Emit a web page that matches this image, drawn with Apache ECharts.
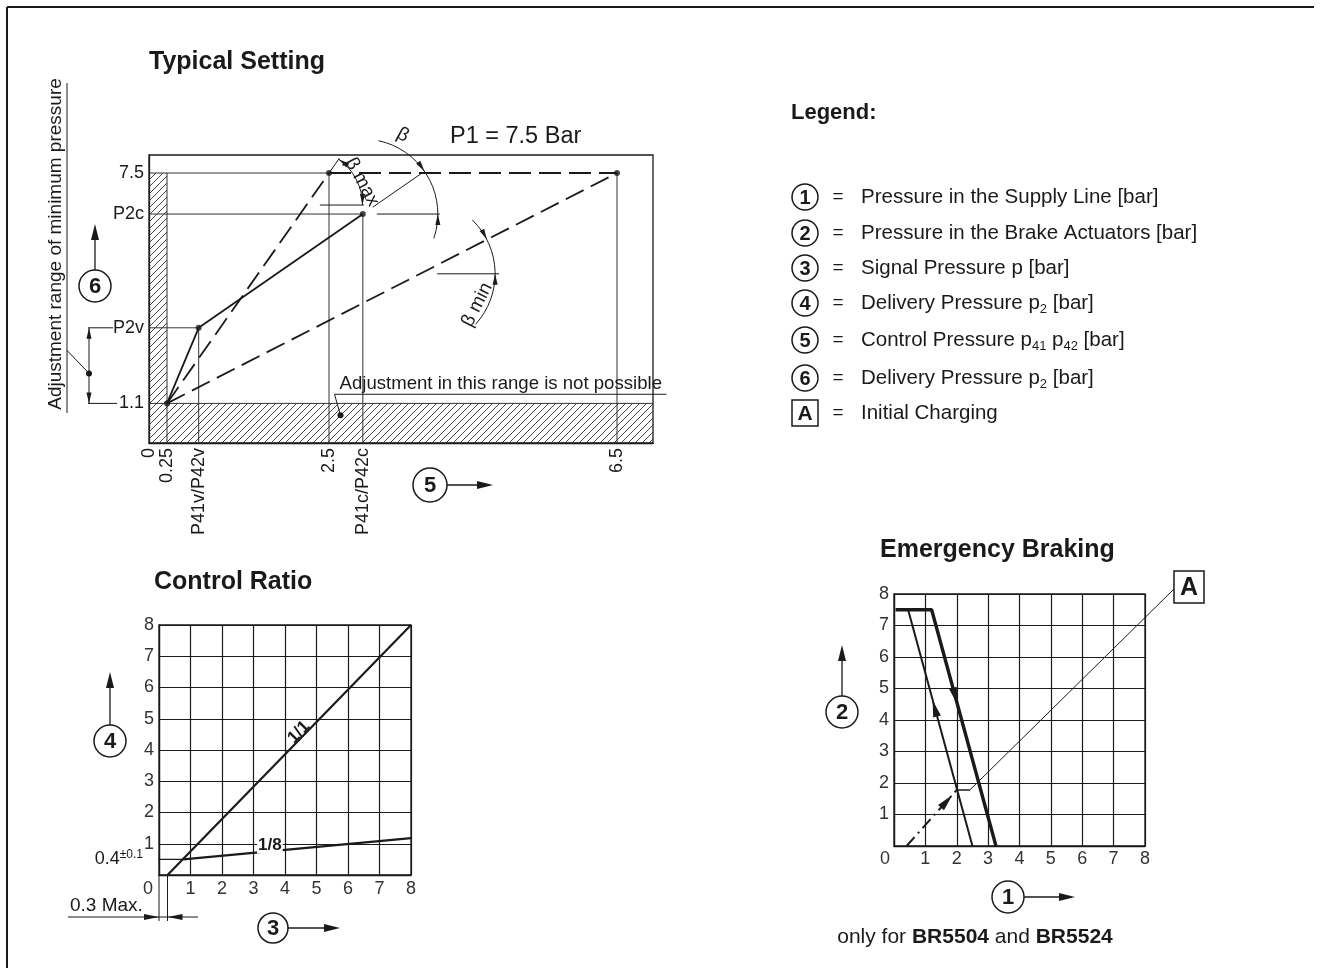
<!DOCTYPE html>
<html>
<head>
<meta charset="utf-8">
<title>Typical Setting - Control Ratio - Emergency Braking</title>
<script src="https://cdn.jsdelivr.net/npm/echarts@6/dist/echarts.min.js"></script>
<style>
  html, body { margin: 0; padding: 0; background: #fff; }
  #chart { width: 1321px; height: 975px; }
</style>
</head>
<body>
<div id="chart"></div>
<script>
  // ---- Typical Setting (x: control pressure, y: delivery pressure) ----
  const tsXTicks = [0, 0.25, 0.69, 2.5, 2.97, 6.5];
  const tsXTickText = ['0', '0.25', 'P41v/P42v', '2.5', 'P41c/P42c', '6.5'];
  const tsYTicks = [1.1, 3.2, 6.36, 7.5];
  const tsYTickText = ['1.1', 'P2v', 'P2c', '7.5'];
  const tsSolid = [[0.25, 1.1], [0.69, 3.2], [2.97, 6.36]];
  const tsSteep = [[0.25, 1.1], [2.5, 7.5]];
  const tsFlat = [[0.25, 1.1], [6.5, 7.5]];
  const tsTop = [[2.5, 7.5], [6.5, 7.5]];
  const tsDots = [[0.25, 1.1], [0.69, 3.2], [2.5, 7.5], [2.97, 6.36], [6.5, 7.5]];
  const tsHatch = [[0, 0, 7, 1.1], [0, 1.1, 0.25, 7.5]];
  const tsRefs = [
    [0.25, 0, 0.25, 7.5], [0, 7.5, 2.5, 7.5], [2.5, 0, 2.5, 7.5],
    [0.69, 0, 0.69, 3.2], [0, 3.2, 0.69, 3.2],
    [2.97, 0, 2.97, 6.36], [0, 6.36, 2.97, 6.36],
    [6.5, 0, 6.5, 7.5], [0, 1.1, 7, 1.1]
  ];
  const tsNoteDot = [2.66, 0.77];

  // ---- Control Ratio ----
  const crTicks = [0, 1, 2, 3, 4, 5, 6, 7, 8];
  const crRatio11 = [[0.27, 0], [8, 8]];
  const crRatio18 = [[0.77, 0.5], [8, 1.18]];
  const crOffset = [[-0.35, 0.5], [0.77, 0.5]];
  const crLabel11 = [4.44, 4.57];
  const crLabel18 = [3.52, 0.96];

  // ---- Emergency Braking ----
  const ebThick = [[0.05, 7.5], [1.2, 7.5], [3.25, 0]];
  const ebThin = [[0.45, 7.5], [2.5, 0]];
  const ebCharge = [[0.4, 0], [2.0, 1.78]];
  const ebStep = [[2.0, 1.78], [2.42, 1.78]];
  const ebArrows = [[2.02, 4.5], [1.23, 4.63], [1.86, 1.62]];

  // ---- Legend ----
  const legendKeys = ['1', '2', '3', '4', '5', '6', 'A'];
  const legendText = [
    '{n|Pressure in the Supply Line [bar]}',
    '{n|Pressure in the Brake Actuators [bar]}',
    '{n|Signal Pressure p [bar]}',
    '{n|Delivery Pressure p}{s|2}{n| [bar]}',
    '{n|Control Pressure p}{s|41}{n| p}{s|42}{n| [bar]}',
    '{n|Delivery Pressure p}{s|2}{n| [bar]}',
    '{n|Initial Charging}'
  ];

  const FONT = '"Liberation Sans", Arial, sans-serif';
  const INK = '#1a1a1a';

  function hatchPattern() {
    const c = document.createElement('canvas');
    c.width = 7; c.height = 7;
    const g = c.getContext('2d');
    g.strokeStyle = '#333';
    g.lineWidth = 0.9;
    g.beginPath();
    g.moveTo(0, 7); g.lineTo(7, 0);
    g.moveTo(-1, 1); g.lineTo(1, -1);
    g.moveTo(6, 8); g.lineTo(8, 6);
    g.stroke();
    return { image: c, repeat: 'repeat' };
  }
  const hatch = hatchPattern();

  // small drawing helpers (pixel space)
  function seg(a, b, w, dash) {
    return { type: 'line', silent: true, shape: { x1: a[0], y1: a[1], x2: b[0], y2: b[1] },
      style: { stroke: INK, lineWidth: w || 1, lineDash: dash || null } };
  }
  function head(tip, ang, len, wid) {
    len = len || 13; wid = wid || 6;
    const c = Math.cos(ang), s = Math.sin(ang);
    const bx = tip[0] - c * len, by = tip[1] - s * len;
    return { type: 'polygon', silent: true,
      shape: { points: [[tip[0], tip[1]], [bx - s * wid / 2, by + c * wid / 2], [bx + s * wid / 2, by - c * wid / 2]] },
      style: { fill: INK } };
  }
  function dot(p, r) {
    return { type: 'circle', silent: true, shape: { cx: p[0], cy: p[1], r: r || 3 }, style: { fill: INK } };
  }
  function arcEl(c, r, a0, a1) {
    return { type: 'arc', silent: true, shape: { cx: c[0], cy: c[1], r: r, startAngle: a0, endAngle: a1, clockwise: true },
      style: { stroke: INK, fill: null, lineWidth: 1 } };
  }
  function label(p, text, size, opt) {
    opt = opt || {};
    const align = opt.align || 'center', va = opt.va || 'middle';
    return { type: 'text', silent: true, x: p[0], y: p[1], rotation: opt.rot || 0, z2: 10,
      style: { text: text, font: (opt.bold ? 'bold ' : '') + size + 'px ' + FONT, fill: INK,
        align: align, verticalAlign: va, textAlign: align, textVerticalAlign: va,
        rich: opt.rich, backgroundColor: opt.bg, padding: opt.pad } };
  }
  function circled(cx, cy, r, txt, fs) {
    return [
      { type: 'circle', silent: true, shape: { cx: cx, cy: cy, r: r }, style: { fill: '#fff', stroke: INK, lineWidth: 1.5 } },
      label([cx, cy + 1], txt, fs, { bold: true })
    ];
  }

  function lineSeries(data, gi, w, dash, z) {
    return { type: 'line', xAxisIndex: gi, yAxisIndex: gi, data: data, symbol: 'none', silent: true,
      lineStyle: { color: INK, width: w, type: dash || 'solid' }, z: z || 3 };
  }
  function segSeries(data, gi, w, color) {
    return { type: 'custom', xAxisIndex: gi, yAxisIndex: gi, data: data, silent: true, z: 2,
      renderItem: function (p, api) {
        const a = api.coord([api.value(0), api.value(1)]);
        const b = api.coord([api.value(2), api.value(3)]);
        return { type: 'line', shape: { x1: a[0], y1: a[1], x2: b[0], y2: b[1] }, style: { stroke: color, lineWidth: w } };
      } };
  }

  const chartDom = document.getElementById('chart');
  const myChart = echarts.init(chartDom);

  const gridAxis = (gi, min, max) => ({
    gridIndex: gi, type: 'value', min: min, max: max,
    axisLine: { show: true, onZero: false, lineStyle: { color: INK, width: 1.3 } },
    axisTick: { show: false }
  });

  const option = {
    animation: false,
    backgroundColor: '#fff',
    grid: [
      { left: 149, top: 155, width: 504, height: 288, show: true, borderColor: INK, borderWidth: 1.3, backgroundColor: 'transparent' },
      { left: 159, top: 625, width: 252, height: 250, show: true, borderColor: INK, borderWidth: 1.3, backgroundColor: 'transparent' },
      { left: 894, top: 594, width: 251, height: 252, show: true, borderColor: INK, borderWidth: 1.3, backgroundColor: 'transparent' }
    ],
    xAxis: [
      Object.assign(gridAxis(0, 0, 7), {
        splitLine: { show: false },
        axisLabel: { customValues: tsXTicks, rotate: 90, margin: 5, fontSize: 18, fontFamily: FONT, color: INK,
          formatter: v => tsXTickText[tsXTicks.indexOf(v)] }
      }),
      Object.assign(gridAxis(1, 0, 8), {
        interval: 1,
        splitLine: { show: true, lineStyle: { color: INK, width: 1.2 } },
        axisLabel: { margin: 5, fontSize: 18, fontFamily: FONT, color: '#333',
          formatter: v => v === 0 ? '{z|0}' : String(v), rich: { z: { padding: [0, 22, 0, 0] } } }
      }),
      Object.assign(gridAxis(2, 0, 8), {
        interval: 1,
        splitLine: { show: true, lineStyle: { color: INK, width: 1.2 } },
        axisLabel: { margin: 4, fontSize: 18, fontFamily: FONT, color: '#333',
          formatter: v => v === 0 ? '{z|0}' : String(v), rich: { z: { padding: [0, 18, 0, 0] } } }
      })
    ],
    yAxis: [
      Object.assign(gridAxis(0, 0, 8), {
        splitLine: { show: false },
        axisLabel: { customValues: tsYTicks, margin: 5, fontSize: 18, fontFamily: FONT, color: INK,
          formatter: v => tsYTickText[tsYTicks.indexOf(v)] }
      }),
      Object.assign(gridAxis(1, 0, 8), {
        interval: 1,
        splitLine: { show: true, lineStyle: { color: INK, width: 1.2 } },
        axisLabel: { margin: 5, fontSize: 18, fontFamily: FONT, color: '#333', formatter: v => v === 0 ? '' : String(v) }
      }),
      Object.assign(gridAxis(2, 0, 8), {
        interval: 1,
        splitLine: { show: true, lineStyle: { color: INK, width: 1.2 } },
        axisLabel: { margin: 5, fontSize: 18, fontFamily: FONT, color: '#333', formatter: v => v === 0 ? '' : String(v) }
      })
    ],
    series: [
      // Typical Setting
      { type: 'custom', xAxisIndex: 0, yAxisIndex: 0, data: tsHatch, silent: true, z: 1,
        renderItem: function (p, api) {
          const a = api.coord([api.value(0), api.value(1)]);
          const b = api.coord([api.value(2), api.value(3)]);
          return { type: 'rect', shape: { x: a[0], y: b[1], width: b[0] - a[0], height: a[1] - b[1] }, style: { fill: hatch } };
        } },
      segSeries(tsRefs, 0, 1, '#333'),
      lineSeries(tsSolid, 0, 1.8),
      lineSeries(tsSteep, 0, 1.8, [20, 8]),
      lineSeries(tsFlat, 0, 1.8, [20, 8]),
      lineSeries(tsTop, 0, 1.8, [22, 8]),
      { type: 'scatter', xAxisIndex: 0, yAxisIndex: 0, data: tsDots, symbolSize: 6, itemStyle: { color: INK }, silent: true, z: 5 },
      { type: 'custom', xAxisIndex: 0, yAxisIndex: 0, data: [[0, 0]], silent: true, z: 6, clip: false,
        renderItem: function (p, api) {
          const p0 = api.coord(tsSolid[0]), pv = api.coord(tsSolid[1]), pc = api.coord(tsSolid[2]);
          const pm = api.coord(tsSteep[1]), pf = api.coord(tsFlat[1]);
          const aSteep = Math.atan2(pm[1] - p0[1], pm[0] - p0[0]);
          const aSolid = Math.atan2(pc[1] - pv[1], pc[0] - pv[0]);
          const aFlat = Math.atan2(pf[1] - p0[1], pf[0] - p0[0]);
          const els = [];
          // beta max
          const yb = pc[1] - 9;
          const cm = [p0[0] + (yb - p0[1]) / Math.tan(aSteep), yb];
          const rm = 56;
          els.push(seg(pm, [pm[0] + Math.cos(aSteep) * 18, pm[1] + Math.sin(aSteep) * 18]));
          els.push(seg([pc[0] - 43, yb], [pc[0] + 1, yb]));
          els.push(arcEl(cm, rm, aSteep, 0));
          els.push(head([cm[0] + rm * Math.cos(aSteep), cm[1] + rm * Math.sin(aSteep)], aSteep - Math.PI / 2, 11, 5));
          els.push(head([cm[0] + rm, cm[1]], Math.PI / 2, 11, 5));
          els.push(label([pm[0] + 33, pm[1] + 9], 'β max', 19, { rot: -1.08 }));
          // beta
          const rb = 75;
          els.push(seg([pc[0] + Math.cos(aSolid) * 12, pc[1] + Math.sin(aSolid) * 12], [pc[0] + Math.cos(aSolid) * 73, pc[1] + Math.sin(aSolid) * 73]));
          els.push(seg([pc[0] + 14, pc[1]], [pc[0] + 77, pc[1]]));
          els.push(arcEl(pc, rb, -1.36, 0.33));
          els.push(head([pc[0] + rb * Math.cos(aSolid), pc[1] + rb * Math.sin(aSolid)], aSolid + Math.PI / 2, 11, 5));
          els.push(head([pc[0] + rb, pc[1]], -Math.PI / 2, 11, 5));
          els.push(label([pc[0] + 40, pc[1] - 79], 'β', 19, { rot: -0.5 }));
          // beta min
          const cn = [p0[0] + (pf[0] - p0[0]) * 0.5625, p0[1] + (pf[1] - p0[1]) * 0.5625];
          const rn = 75;
          els.push(seg([cn[0] + 17, cn[1]], [cn[0] + 79, cn[1]]));
          els.push(arcEl(cn, rn, -0.8, 0.74));
          els.push(head([cn[0] + rn * Math.cos(aFlat), cn[1] + rn * Math.sin(aFlat)], aFlat + Math.PI / 2, 11, 5));
          els.push(head([cn[0] + rn, cn[1]], -Math.PI / 2, 11, 5));
          els.push(label([cn[0] + 57, cn[1] + 31], 'β min', 19, { rot: 1.1 }));
          // dimension P2v .. 1.1
          const yv = pv[1], y1 = p0[1];
          els.push(seg([88, yv], [113, yv]));
          els.push(seg([88, y1], [117, y1]));
          els.push(seg([89, yv], [89, y1]));
          els.push(head([89, yv], -Math.PI / 2, 11, 5));
          els.push(head([89, y1], Math.PI / 2, 11, 5));
          els.push(dot([89, y1 - 30], 3));
          els.push(seg([89, y1 - 30], [67, y1 - 53]));
          // note: adjustment not possible
          const d = api.coord(tsNoteDot);
          els.push(dot(d, 3));
          els.push(seg(d, [d[0] - 6, d[1] - 21]));
          els.push(seg([d[0] - 6, d[1] - 21], [d[0] + 326, d[1] - 21]));
          els.push(label([d[0] - 1, d[1] - 31], 'Adjustment in this range is not possible', 18.6, { align: 'left' }));
          return { type: 'group', children: els };
        } },

      // Control Ratio
      lineSeries(crRatio11, 1, 2.2),
      lineSeries(crRatio18, 1, 2.2),
      Object.assign(lineSeries(crOffset, 1, 1.2), { clip: false }),
      { type: 'custom', xAxisIndex: 1, yAxisIndex: 1, data: [[0, 0]], silent: true, z: 6, clip: false,
        renderItem: function (p, api) {
          const o = api.coord([0, 0]), q = api.coord(crRatio11[0]);
          const yd = o[1] + 42;
          const a = api.coord(crRatio11[0]), b = api.coord(crRatio11[1]);
          const ang = Math.atan2(b[1] - a[1], b[0] - a[0]);
          const off = api.coord([0, crOffset[0][1]]);
          const els = [
            seg(o, [o[0], o[1] + 46]), seg(q, [q[0], q[1] + 46]),
            seg([68, yd], [198, yd]),
            head([o[0], yd], 0, 15, 6), head([q[0], yd], Math.PI, 15, 6),
            label([70, yd - 11], '0.3 Max.', 19, { align: 'left' }),
            label([off[0] - 16, off[1]], '{a|0.4}{b|±0.1}', 18, { align: 'right',
              rich: { a: { fontSize: 18, lineHeight: 22, fontFamily: FONT, color: '#333' },
                      b: { fontSize: 12, lineHeight: 12, verticalAlign: 'top', fontFamily: FONT, color: '#333' } } }),
            label(api.coord(crLabel11), '1/1', 17, { bold: true, rot: -ang }),
            label(api.coord(crLabel18), '1/8', 17, { bold: true, bg: '#fff', pad: [0, 1] })
          ];
          return { type: 'group', children: els };
        } },

      // Emergency Braking
      lineSeries(ebThick, 2, 3.4),
      lineSeries(ebThin, 2, 2),
      lineSeries(ebCharge, 2, 2, [12, 5, 2, 5]),
      lineSeries(ebStep, 2, 1.5),
      { type: 'custom', xAxisIndex: 2, yAxisIndex: 2, data: [[0, 0]], silent: true, z: 6, clip: false,
        renderItem: function (p, api) {
          const a = api.coord(ebThick[1]), b = api.coord(ebThick[2]);
          const c = api.coord(ebThin[0]), d = api.coord(ebThin[1]);
          const e = api.coord(ebCharge[0]), f = api.coord(ebCharge[1]);
          const s = api.coord(ebStep[1]);
          return { type: 'group', children: [
            head(api.coord(ebArrows[0]), Math.atan2(b[1] - a[1], b[0] - a[0]), 17, 8),
            head(api.coord(ebArrows[1]), Math.atan2(c[1] - d[1], c[0] - d[0]), 17, 8),
            head(api.coord(ebArrows[2]), Math.atan2(f[1] - e[1], f[0] - e[0]), 17, 8),
            seg(s, [1174, 589], 1)
          ] };
        } }
    ],
    graphic: { elements: [] }
  };

  // page-level annotations
  const g = [];
  g.push(seg([7, 7], [1314, 7], 2));
  g.push(seg([7, 7], [7, 968], 2));
  g.push(label([149, 62], 'Typical Setting', 25, { bold: true, align: 'left' }));
  g.push(label([154, 582], 'Control Ratio', 25, { bold: true, align: 'left' }));
  g.push(label([880, 550], 'Emergency Braking', 25, { bold: true, align: 'left' }));
  g.push(label([791, 113], 'Legend:', 22, { bold: true, align: 'left' }));
  g.push(label([450, 137], 'P1 = 7.5 Bar', 23.5, { align: 'left' }));
  g.push(label([56, 244], 'Adjustment range of minimum pressure', 19, { rot: Math.PI / 2 }));
  g.push(seg([67, 83], [67, 413], 1));
  // axis markers
  g.push(...circled(95, 286, 16, '6', 22));
  g.push(seg([95, 270], [95, 235], 1.3), head([95, 224], -Math.PI / 2, 16, 8));
  g.push(...circled(430, 485, 17, '5', 22));
  g.push(seg([447, 485], [480, 485], 1.3), head([493, 485], 0, 16, 8));
  g.push(...circled(110, 741, 16, '4', 22));
  g.push(seg([110, 725], [110, 685], 1.3), head([110, 672], -Math.PI / 2, 16, 8));
  g.push(...circled(273, 928, 15, '3', 22));
  g.push(seg([288, 928], [327, 928], 1.3), head([340, 928], 0, 16, 8));
  g.push(...circled(842, 712, 16, '2', 22));
  g.push(seg([842, 696], [842, 658], 1.3), head([842, 645], -Math.PI / 2, 16, 8));
  g.push(...circled(1008, 897, 16, '1', 22));
  g.push(seg([1024, 897], [1062, 897], 1.3), head([1075, 897], 0, 16, 8));
  // box A on the emergency chart
  g.push({ type: 'rect', silent: true, shape: { x: 1174, y: 571, width: 30, height: 32 }, style: { fill: '#fff', stroke: INK, lineWidth: 1.5 } });
  g.push(label([1189, 588], 'A', 25, { bold: true }));
  g.push(label([975, 937], '{n|only for }{b|BR5504}{n| and }{b|BR5524}', 21, {
    rich: { n: { fontSize: 21, fontFamily: FONT, color: INK }, b: { fontSize: 21, fontWeight: 'bold', fontFamily: FONT, color: INK } } }));
  // legend rows
  const legendY = [197, 233, 268, 303, 340, 378, 413];
  legendKeys.forEach((k, i) => {
    const y = legendY[i];
    if (k === 'A') {
      g.push({ type: 'rect', silent: true, shape: { x: 792, y: y - 13, width: 26, height: 26 }, style: { fill: '#fff', stroke: INK, lineWidth: 1.5 } });
      g.push(label([805, y + 1], k, 21, { bold: true }));
    } else {
      g.push(...circled(805, y, 13, k, 20));
    }
    g.push(label([838, y], '=', 19));
    g.push(label([861, y], legendText[i], 20.5, { align: 'left',
      rich: { n: { fontSize: 20.5, lineHeight: 25, fontFamily: FONT, color: INK },
              s: { fontSize: 13, lineHeight: 10, verticalAlign: 'bottom', fontFamily: FONT, color: INK } } }));
  });
  option.graphic.elements = g;

  option && myChart.setOption(option);
</script>
</body>
</html>
